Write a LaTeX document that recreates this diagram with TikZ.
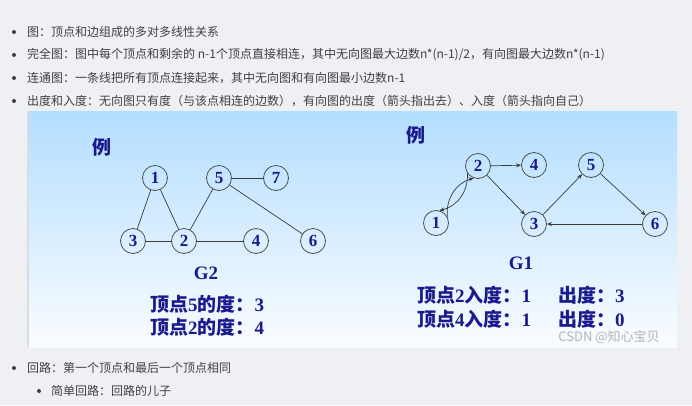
\documentclass[tikz,border=0pt]{standalone}
\usepackage{fontspec}
\setmainfont{Noto Sans CJK SC}
\newfontfamily\serifnum{Liberation Serif}
\usetikzlibrary{arrows.meta,positioning}
\definecolor{pagebg}{HTML}{EEF0F4}
\definecolor{quotebar}{HTML}{DADCE0}
\definecolor{bodytext}{HTML}{404040}
\definecolor{navy}{HTML}{1A1A8E}
\definecolor{skytop}{HTML}{B3DEFF}
\definecolor{skybot}{HTML}{FAFCFF}
\definecolor{edgec}{HTML}{3A3A3A}
\definecolor{ringc}{HTML}{4E4E4E}
\definecolor{markc}{HTML}{B4B4B4}
\newcommand{\dg}[1]{{\serifnum\bfseries #1}}
\tikzset{
  item/.style={anchor=west,inner sep=0pt,font=\fontsize{12}{14}\selectfont,text=bodytext},
  dot/.style={circle,fill=bodytext,inner sep=0pt,minimum size=4pt},
  vert/.style={circle,draw=ringc,line width=0.8pt,minimum size=25pt,inner sep=0pt,
    font=\fontsize{17}{17}\serifnum\bfseries,text=navy},
  head/.style={inner sep=0pt,font=\fontsize{19}{22}\selectfont\bfseries,text=navy},
  gname/.style={inner sep=0pt,font=\fontsize{19}{22}\serifnum\bfseries,text=navy},
  deg/.style={anchor=west,inner sep=0pt,font=\fontsize{19}{22}\selectfont\bfseries,text=navy},
  link/.style={draw=edgec,line width=0.7pt},
  arc/.style={link,-{Stealth[length=5pt,width=4pt]}},
  wmark/.style={inner sep=0pt,font=\fontsize{13}{15}\selectfont,text=markc},
}
\begin{document}
\begin{tikzpicture}[x=1pt,y=-1pt]
  \useasboundingbox[fill=pagebg] (0,0) rectangle (692,405);
  % bullet list above the picture
  \node[item] (t1) at (27,32){图：顶点和边组成的多对多线性关系};
  \node[item] (t2) at (27,55){完全图：图中每个顶点和剩余的 n-1个顶点直接相连，其中无向图最大边数n*(n-1)/2，有向图最大边数n*(n-1)};
  \node[item] (t3) at (27,78){连通图：一条线把所有顶点连接起来，其中无向图和有向图最小边数n-1};
  \node[item] (t4) at (27,101){出度和入度：无向图只有度（与该点相连的边数），有向图的出度（箭头指出去）、入度（箭头指向自己）};
  \node[item] (t5) at (27,368){回路：第一个顶点和最后一个顶点相同};
  \node[item] (t6) at (51,391){简单回路：回路的儿子};
  \foreach \i/\x in {1/14,2/14,3/14,4/14,5/14,6/39} \node[dot] (b\i) at (\x,0 |- t\i.west){};
  % the picture
  \fill[quotebar] (26.5,111) rectangle (29,347);
  \shade[top color=skytop,bottom color=skybot] (29,111) rectangle (677,347);
  % G2: undirected
  \node[head] (e2) at (102,147){例};
  \foreach \n/\x/\y in {1/155/178,5/219/178,7/276/178,3/133/241,2/184/241,4/256/241,6/313/241}
    \node[vert] (u\n) at (\x,\y){\n};
  \foreach \a/\b in {1/3,1/2,3/2,2/5,2/4,5/7,5/6} \draw[link] (u\a) -- (u\b);
  \node[gname] (g2) at (206,273){G2};
  \node[deg] (d21) at (150,304){顶点\dg{5}的度：\dg{3}};
  \node[deg] (d22) at (150,327){顶点\dg{2}的度：\dg{4}};
  % G1: directed
  \node[head] (e1) at (416,135){例};
  \foreach \n/\x/\y in {2/478/166,4/534/165,5/591/165,1/436/223,3/534/224,6/655/224}
    \node[vert] (v\n) at (\x,\y){\n};
  \foreach \a/\b in {2/4,2/3,3/5,5/6,6/3} \draw[arc] (v\a) -- (v\b);
  \draw[arc] (v2.215) to[bend left=40] (v1.75);
  \draw[arc] (v1.28) to[bend left=40] (v2.250);
  \node[gname] (g1) at (521,263){G1};
  \node[deg] (d11) at (417,295){顶点\dg{2}入度：\dg{1}};
  \node[deg] (d12) at (417,319){顶点\dg{4}入度：\dg{1}};
  \node[deg] (o11) at (558,295){出度：\dg{3}};
  \node[deg] (o12) at (558,319){出度：\dg{0}};
  \node[wmark] (wm) at (609,337){CSDN @知心宝贝};
\end{tikzpicture}
\end{document}
